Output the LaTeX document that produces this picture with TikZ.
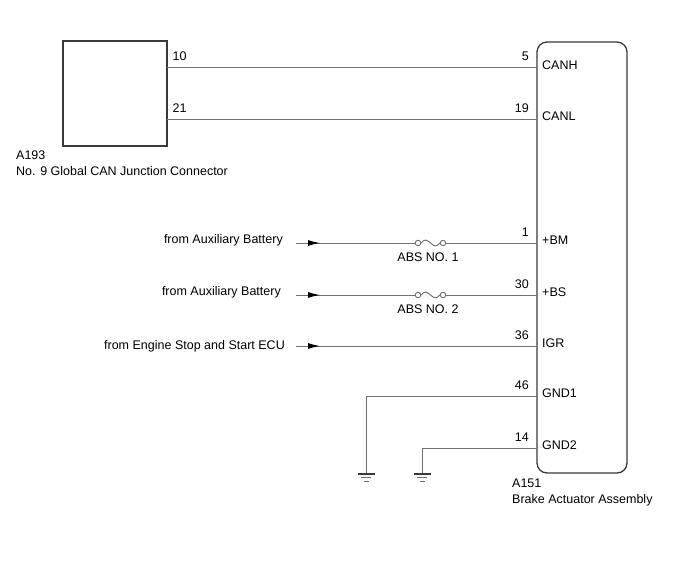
\documentclass[tikz,border=0pt]{standalone}
\usepackage{fontspec}
\setmainfont{Liberation Sans}
\usetikzlibrary{arrows.meta,positioning,calc}
\definecolor{wirecol}{HTML}{707070}
\definecolor{boxcol}{HTML}{3A3A3A}
\tikzset{
  wire/.style={draw=wirecol, line width=1pt},
  feed/.style={wire, -{Latex[length=12pt,width=6pt,black]}},
  box/.style={draw=boxcol, line width=1.3pt, inner sep=0pt},
  txt/.style={anchor=base west, inner sep=0pt},
  srctxt/.style={anchor=base east, inner sep=0pt},
  pinno/.style={anchor=base east, inner sep=0pt},
  pinname/.style={anchor=base west, inner sep=0pt},
  fusetxt/.style={anchor=base, inner sep=0pt},
  fusepin/.style={draw=wirecol, circle, fill=white, minimum size=5.5pt, inner sep=0pt, line width=0.9pt},
  earth/.pic={
    \draw[boxcol, line width=1.6pt] (-8.5,0) -- (8.5,0);
    \draw[wirecol, line width=1pt] (-5,3.7) -- (5,3.7);
    \draw[wirecol, line width=1pt] (-2.5,7.5) -- (2.5,7.5);
  }
}
\begin{document}
\begin{tikzpicture}[x=1pt,y=-1pt,font=\fontsize{12.5}{15}\selectfont]
    \useasboundingbox (0,0) rectangle (688,560);
    \node [box, minimum width=104pt, minimum height=105pt] (a193) at (115,93.5) {};
    \node [box, rounded corners=10pt, minimum width=90pt, minimum height=431pt] (a151) at (582,257.5) {};
    \node [txt] (a193id) at (16,159) {A193};
    \node [txt] (a193name) at (16,175.5) {No. 9 Global CAN Junction Connector};
    \node [txt] (a151id) at (512,487) {A151};
    \node [txt] (a151name) at (512,503.5) {Brake Actuator Assembly};
    \foreach \y/\no/\name [count=\i] in {67.5/5/CANH, 119/19/CANL, 243/1/+BM, 295/30/+BS, 346/36/IGR, 396/46/GND1, 448/14/GND2} {
        \coordinate (pin\i) at (537,\y);
        \node [pinno] (no\i) at (529,\y-7) {\no};
        \node [pinname] (name\i) at (542,\y+1.5) {\name};
    }
    \coordinate (j10) at (167,67.5);
    \coordinate (j21) at (167,119);
    \node [pinno, anchor=base west] (no10) at (172.5,60.5) {10};
    \node [pinno, anchor=base west] (no21) at (172.5,112) {21};
    \draw [wire] (j10) -- (pin1);
    \draw [wire] (j21) -- (pin2);
    \node [srctxt] (src1) at (283,243.5) {from Auxiliary Battery};
    \node [srctxt] (src2) at (281,295.5) {from Auxiliary Battery};
    \node [srctxt] (src3) at (285,349) {from Engine Stop and Start ECU};
    \coordinate (s1) at (296,243);
    \coordinate (s2) at (296,295);
    \coordinate (s3) at (296,346);
    \coordinate (t1) at (320,243);
    \coordinate (t2) at (320,295);
    \coordinate (t3) at (320,346);
    \node [fusepin] (f1l) at (418,243) {};
    \node [fusepin] (f1r) at (443,243) {};
    \node [fusepin] (f2l) at (418,295) {};
    \node [fusepin] (f2r) at (443,295) {};
    \node [fusetxt] (abs1) at (428,261) {ABS NO. 1};
    \node [fusetxt] (abs2) at (428,313) {ABS NO. 2};
    \draw [wire] (s1) -- (f1l);
    \draw [wire] (s2) -- (f2l);
    \draw [wire] (s3) -- (pin5);
    \draw [feed] (s1) -- (t1);
    \draw [feed] (s2) -- (t2);
    \draw [feed] (s3) -- (t3);
    \draw [wire] (f1r) -- (pin3);
    \draw [wire] (f2r) -- (pin4);
    \draw [wire] (f1l.east) .. controls +(7,-10) and +(-7,10) .. (f1r.west);
    \draw [wire] (f2l.east) .. controls +(7,-10) and +(-7,10) .. (f2r.west);
    \coordinate (g1) at (366,474);
    \coordinate (g2) at (422,474);
    \draw [wire] (pin6) -| (g1);
    \draw [wire] (pin7) -| (g2);
    \pic at (g1) {earth};
    \pic at (g2) {earth};
\end{tikzpicture}
\end{document}
